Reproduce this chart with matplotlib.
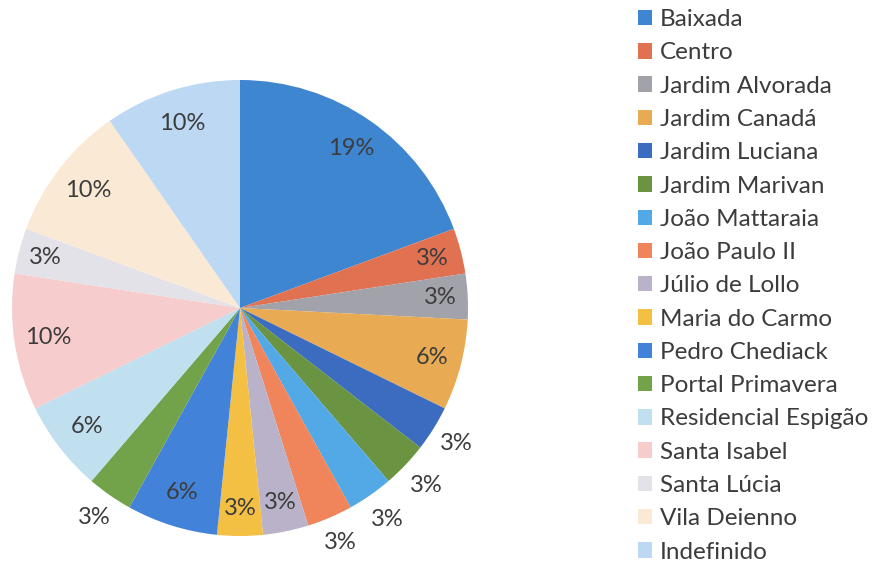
import matplotlib.pyplot as plt
import numpy as np

# Bairros e quantidade (percentual calculado pela pizza)
bairros = ['Baixada', 'Centro', 'Jardim Alvorada', 'Jardim Canadá', 'Jardim Luciana',
           'Jardim Marivan', 'João Mattaraia', 'João Paulo II', 'Júlio de Lollo',
           'Maria do Carmo', 'Pedro Chediack', 'Portal Primavera', 'Residencial Espigão',
           'Santa Isabel', 'Santa Lúcia', 'Vila Deienno', 'Indefinido']
contagem = [6, 1, 1, 2, 1, 1, 1, 1, 1, 1, 2, 1, 2, 3, 1, 3, 3]

cores = ['#3f86d0', '#e07252', '#a2a2aa', '#e8aa52', '#3b6cc0', '#6a9342',
         '#52a9e6', '#f0845a', '#bab2c8', '#f4c043', '#4282d8', '#72a24a',
         '#c0e0f0', '#f6cccc', '#e2e2e8', '#fae9d4', '#bcd8f2']
# rotulo dentro (~0.86) ou fora (~1.12) da fatia
dist_rotulo = [0.85, 0.87, 0.88, 0.87, 1.12, 1.13, 1.13, 1.12, 0.87,
               0.88, 0.85, 1.12, 0.85, 0.85, 0.88, 0.84, 0.85]

plt.rcParams['font.family'] = ['Lato', 'DejaVu Sans']
texto_cor = '#3c3c3c'

fig = plt.figure(figsize=(8.77, 5.67), dpi=100)
ax = fig.add_axes([12 / 877, 31 / 567, 456 / 877, 456 / 567])

wedges, _ = ax.pie(contagem, colors=cores, startangle=90, counterclock=False,
                   radius=1, wedgeprops=dict(linewidth=0))
total = sum(contagem)
for w, n, d in zip(wedges, contagem, dist_rotulo):
    ang = np.deg2rad((w.theta1 + w.theta2) / 2)
    ax.text(d * np.cos(ang), d * np.sin(ang), '%d%%' % round(100 * n / total),
            ha='center', va='center', fontsize=17, color=texto_cor)
ax.set_xlim(-1, 1)
ax.set_ylim(-1, 1)
ax.set_aspect('equal')
ax.axis('off')

leg = fig.legend(wedges, bairros, loc='upper left', bbox_to_anchor=(628 / 877, 1.001),
                 frameon=False, fontsize=17.5, handlelength=0.6, handleheight=0.6,
                 handletextpad=0.3, labelspacing=0.505, borderaxespad=0)
for t in leg.get_texts():
    t.set_color(texto_cor)

fig.savefig('out.png', dpi=100)
